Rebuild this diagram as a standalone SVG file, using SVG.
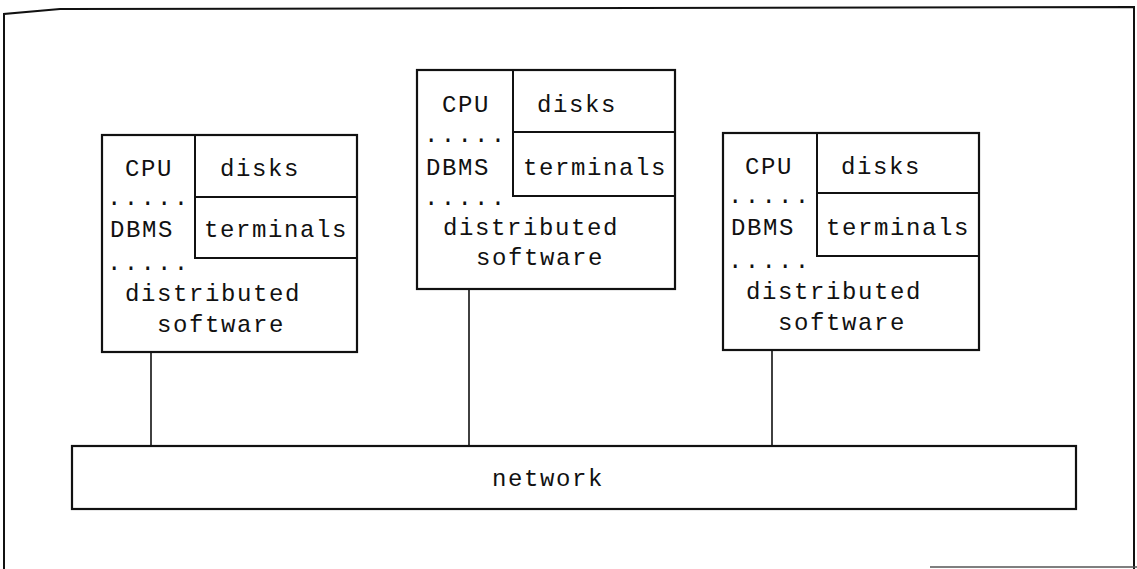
<svg xmlns="http://www.w3.org/2000/svg" width="1137" height="569" viewBox="0 0 1137 569">
<style>
.frame{fill:none;stroke:#111;stroke-width:2}
.box{fill:#fff;stroke:#111;stroke-width:2.2}
.ln{fill:none;stroke:#111;stroke-width:2}
.conn{fill:none;stroke:#111;stroke-width:1.6}
text{font-family:"Liberation Mono","DejaVu Sans Mono",monospace;font-size:24px;fill:#111;letter-spacing:1.6px}
.c{text-anchor:middle}
.dots{letter-spacing:2.3px}
</style>
<rect width="1137" height="569" fill="#fff"/>
<g id="frame">
<path class="frame" d="M4,569 L4,14 L60,9 L1134,7 L1134,569"/>
<line x1="930" y1="567" x2="1137" y2="567" stroke="#555" stroke-width="1.5"/>
</g>
<g id="connectors">
<line class="conn" x1="151" y1="352" x2="151" y2="446"/>
<line class="conn" x1="469" y1="289" x2="469" y2="446"/>
<line class="conn" x1="772" y1="350" x2="772" y2="446"/>
</g>
<g id="site-left" transform="translate(102,135)">
<rect class="box" x="0" y="0" width="255" height="217"/>
<path class="ln" d="M93,0 V123 H255 M93,62 H255"/>
<text class="c" x="47" y="41">CPU</text>
<text class="c" x="158" y="41">disks</text>
<text class="dots" x="5" y="70">.....</text>
<text class="c" x="40" y="102">DBMS</text>
<text class="c" x="174" y="102">terminals</text>
<text class="dots" x="5" y="135">.....</text>
<text class="c" x="111" y="166">distributed</text>
<text class="c" x="119" y="197">software</text>
</g>
<g id="site-middle" transform="translate(417,70)">
<rect class="box" x="0" y="0" width="258" height="219"/>
<path class="ln" d="M96,0 V126 H258 M96,62 H258"/>
<text class="c" x="49" y="42">CPU</text>
<text class="c" x="160" y="42">disks</text>
<text class="dots" x="7" y="72">.....</text>
<text class="c" x="41" y="105">DBMS</text>
<text class="c" x="178" y="105">terminals</text>
<text class="dots" x="7" y="135">.....</text>
<text class="c" x="114" y="165">distributed</text>
<text class="c" x="123" y="195">software</text>
</g>
<g id="site-right" transform="translate(723,133)">
<rect class="box" x="0" y="0" width="256" height="217"/>
<path class="ln" d="M94,0 V123 H256 M94,60 H256"/>
<text class="c" x="46" y="41">CPU</text>
<text class="c" x="158" y="41">disks</text>
<text class="dots" x="5" y="70">.....</text>
<text class="c" x="40" y="102">DBMS</text>
<text class="c" x="175" y="102">terminals</text>
<text class="dots" x="5" y="135">.....</text>
<text class="c" x="111" y="166">distributed</text>
<text class="c" x="119" y="197">software</text>
</g>
<g id="network">
<rect class="box" x="72" y="446" width="1004" height="63"/>
<text class="c" x="548" y="486">network</text>
</g>
</svg>
